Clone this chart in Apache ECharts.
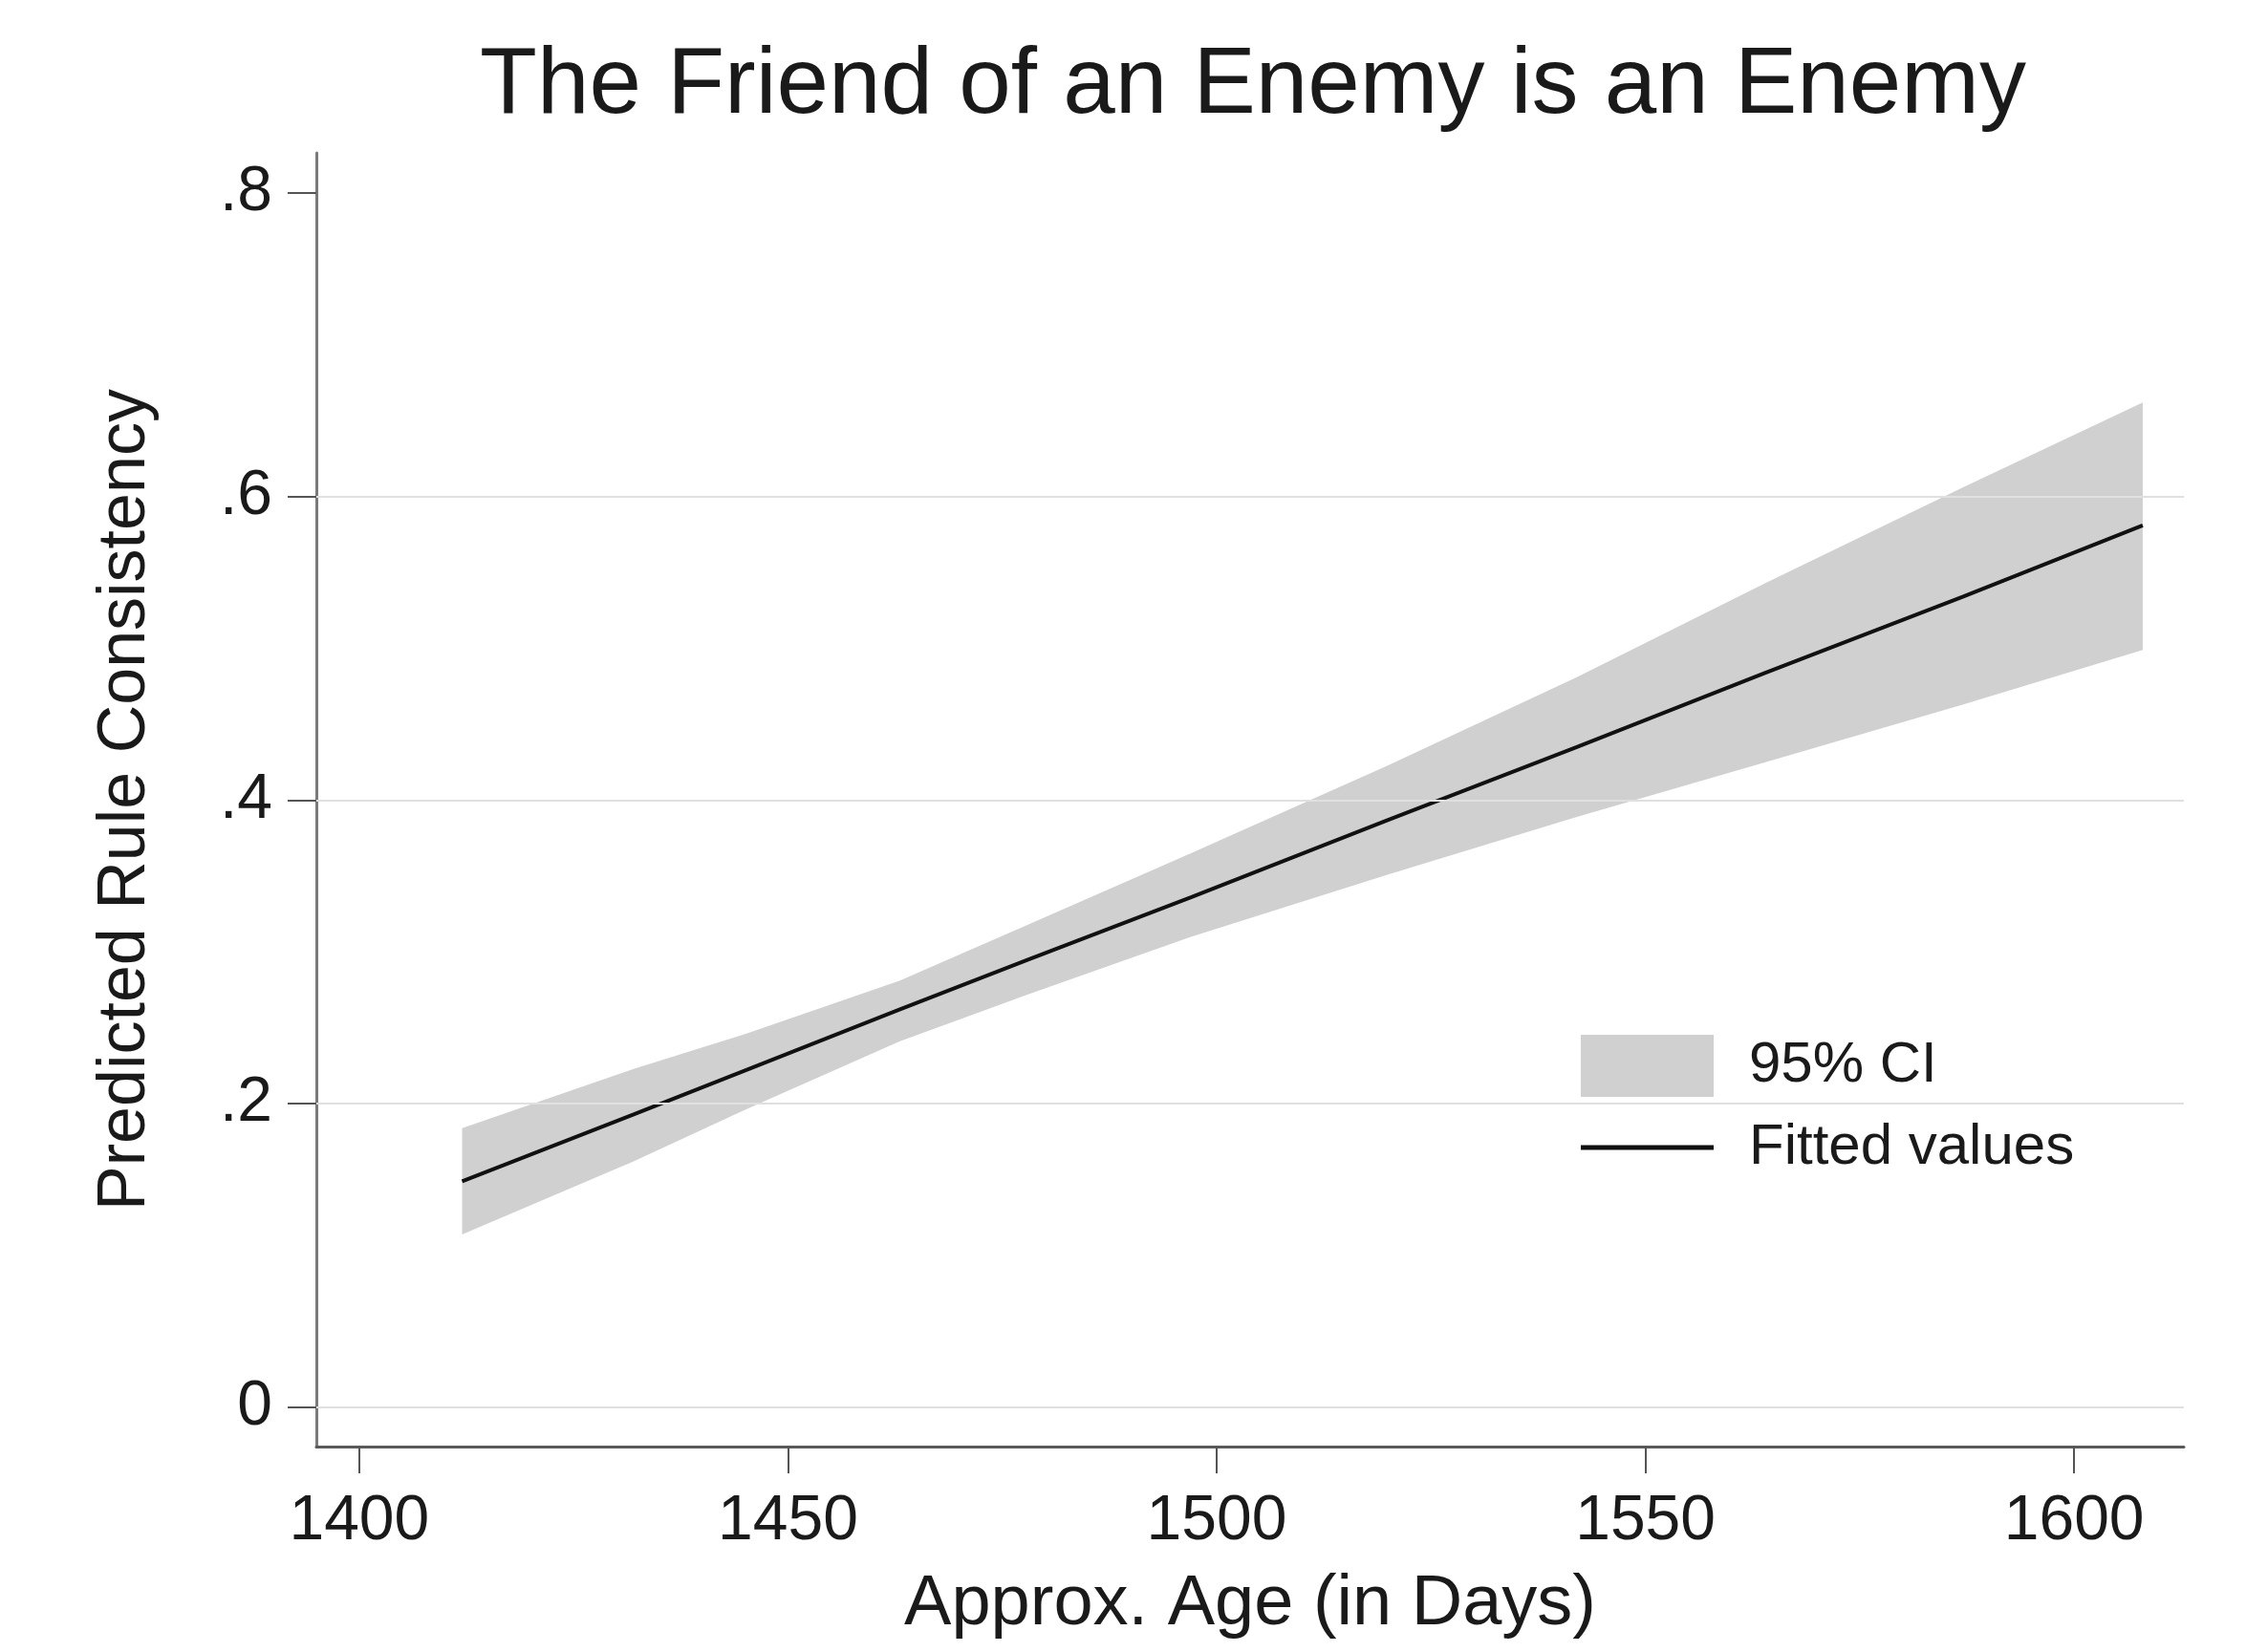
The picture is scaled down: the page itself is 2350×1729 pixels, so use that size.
<!DOCTYPE html>
<html>
<head>
<meta charset="utf-8">
<title>The Friend of an Enemy is an Enemy</title>
<script src="https://cdn.jsdelivr.net/npm/echarts@6/dist/echarts.min.js"></script>
<style>
  html, body { margin: 0; padding: 0; background: #fff; }
  #chart { width: 2350px; height: 1729px; }
</style>
</head>
<body>
<div id="chart"></div>
<script>
// values
const ages = [1412, 1432, 1445, 1463, 1478, 1497, 1520, 1542, 1564, 1587, 1608]
const fitted = [0.149, 0.193, 0.222, 0.262, 0.295, 0.336, 0.387, 0.435, 0.484, 0.534, 0.581]
const ciLow = [0.114, 0.162, 0.196, 0.241, 0.272, 0.310, 0.351, 0.389, 0.425, 0.463, 0.499]
const ciHigh = [0.184, 0.223, 0.246, 0.281, 0.318, 0.365, 0.423, 0.481, 0.543, 0.606, 0.662]

const xTicks = [1400, 1450, 1500, 1550, 1600]
const yTicks = [0, 0.2, 0.4, 0.6, 0.8]
const gridValues = [0, 0.2, 0.4, 0.6]

const font = '"Liberation Sans", Arial, sans-serif'
const textColor = '#1a1a1a'
const bandColor = '#d0d0d0'

const chart = echarts.init(document.getElementById('chart'))

// CI band as one polygon: upper edge forward, lower edge back
function renderBand(params, api) {
  const upper = ages.map((a, i) => api.coord([a, ciHigh[i]]))
  const lower = ages.map((a, i) => api.coord([a, ciLow[i]])).reverse()
  return {
    type: 'polygon',
    shape: { points: upper.concat(lower) },
    style: { fill: bandColor }
  }
}

chart.setOption({
  animation: false,
  backgroundColor: '#fff',
  textStyle: { fontFamily: font },
  title: {
    text: 'The Friend of an Enemy is an Enemy',
    left: 1311,
    top: 42,
    padding: 0,
    textAlign: 'center',
    textStyle: { fontSize: 98, fontWeight: 'normal', color: textColor, fontFamily: font }
  },
  grid: { left: 331, right: 65, top: 160, bottom: 215, containLabel: false },
  legend: {
    orient: 'vertical',
    left: 1622,
    top: 1063,
    padding: [20, 93, 55, 32],
    backgroundColor: '#fff',
    itemWidth: 139,
    itemHeight: 65,
    itemGap: 23,
    symbolKeepAspect: true,
    selectedMode: false,
    textStyle: { fontSize: 60, color: textColor, fontFamily: font, padding: [0, 0, 0, 32] },
    data: [
      { name: '95% CI', icon: 'rect' },
      { name: 'Fitted values', icon: 'path://M0,0H139V5H0Z' }
    ]
  },
  xAxis: {
    type: 'value',
    min: 1395,
    max: 1612.8,
    name: 'Approx. Age (in Days)',
    nameLocation: 'middle',
    nameGap: 129,
    nameTextStyle: { fontSize: 74, color: textColor, fontFamily: font },
    axisLine: { show: true, onZero: false, lineStyle: { color: '#5a5a5a', width: 3 } },
    axisTick: { show: true, length: 28, customValues: xTicks, lineStyle: { color: '#555', width: 2 } },
    axisLabel: {
      customValues: xTicks,
      margin: 46,
      fontSize: 66,
      color: textColor,
      fontFamily: font,
      formatter: v => String(v)
    },
    splitLine: { show: false }
  },
  yAxis: {
    type: 'value',
    min: -0.0258,
    max: 0.8264,
    name: 'Predicted Rule Consistency',
    nameLocation: 'middle',
    nameGap: 164,
    nameTextStyle: { fontSize: 70, color: textColor, fontFamily: font },
    axisLine: { show: true, onZero: false, lineStyle: { color: '#7a7a7a', width: 3 } },
    axisTick: { show: true, length: 30, customValues: yTicks, lineStyle: { color: '#555', width: 2 } },
    axisLabel: {
      customValues: yTicks,
      margin: 46,
      fontSize: 66,
      color: textColor,
      fontFamily: font,
      formatter: v => (v === 0 ? '0' : String(v).replace('0.', '.'))
    },
    splitLine: { show: false }
  },
  series: [
    {
      name: 'grid',
      type: 'line',
      z: 1,
      symbol: 'none',
      silent: true,
      data: [],
      markLine: {
        silent: true,
        symbol: ['none', 'none'],
        label: { show: false },
        lineStyle: { type: 'solid', color: '#e0e0e0', width: 2 },
        data: gridValues.map(v => ({ yAxis: v }))
      }
    },
    {
      name: '95% CI',
      type: 'custom',
      z: 2,
      silent: true,
      itemStyle: { color: bandColor },
      data: [[ages[0], ciLow[0]]],
      renderItem: renderBand
    },
    {
      name: 'Fitted values',
      type: 'line',
      z: 3,
      symbol: 'none',
      silent: true,
      itemStyle: { color: '#111' },
      lineStyle: { color: '#111', width: 4 },
      data: ages.map((a, i) => [a, fitted[i]])
    }
  ]
})
</script>
</body>
</html>
